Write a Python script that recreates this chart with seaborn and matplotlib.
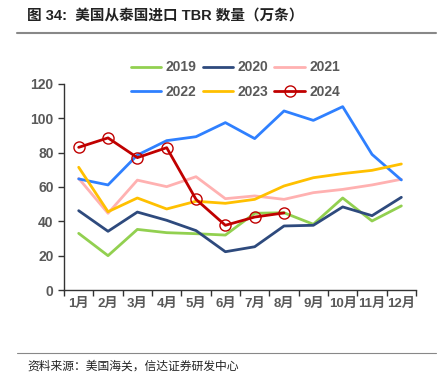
import numpy as np
import pandas as pd
import matplotlib
matplotlib.use("Agg")
import matplotlib.pyplot as plt
import seaborn as sns

# ---------- data (万条) ----------
months = ["1月", "2月", "3月", "4月", "5月", "6月", "7月", "8月", "9月", "10月", "11月", "12月"]
y2019 = [33.0, 20.0, 35.3, 33.4, 32.8, 32.0, 44.7, 45.0, 38.3, 53.6, 40.2, 49.0]
y2020 = [46.2, 34.2, 45.4, 40.6, 34.6, 22.3, 25.2, 37.3, 37.7, 48.4, 43.3, 54.0]
y2021 = [65.0, 44.7, 64.0, 60.2, 66.0, 53.2, 54.8, 52.8, 56.7, 58.6, 61.2, 64.5]
y2022 = [64.7, 61.2, 78.6, 87.0, 89.3, 97.5, 88.2, 104.3, 98.8, 106.8, 79.0, 64.1]
y2023 = [71.5, 45.6, 53.6, 47.2, 51.7, 50.5, 52.8, 60.6, 65.4, 67.8, 69.7, 73.4]
y2024 = [83.1, 88.6, 77.1, 82.9, 52.8, 37.7, 42.5, 44.9]

series = {"2019": y2019, "2020": y2020, "2021": y2021,
          "2022": y2022, "2023": y2023, "2024": y2024}
colors = {"2019": "#92D050", "2020": "#2E4A7D", "2021": "#FFB1B1",
          "2022": "#2F80FF", "2023": "#FFC000", "2024": "#C00000"}

rows = []
for yr, vals in series.items():
    for i, v in enumerate(vals):
        rows.append({"month": i, "year": yr, "value": v})
df = pd.DataFrame(rows)

sns.set_theme(style="white")
plt.rcParams["font.family"] = ["Liberation Sans", "Noto Sans CJK SC", "DejaVu Sans"]

fig = plt.figure(figsize=(4.4, 3.79), dpi=100)
ax = fig.add_axes([0.1455, 0.2348, 0.80, 0.5436])

for yr in series:
    sub = df[df["year"] == yr]
    if yr == "2024":
        sns.lineplot(data=sub, x="month", y="value", ax=ax, color=colors[yr], lw=2.0,
                     marker="o", markersize=8, markerfacecolor="none",
                     markeredgecolor=colors[yr], markeredgewidth=1.0, label=yr)
    else:
        sns.lineplot(data=sub, x="month", y="value", ax=ax, color=colors[yr], lw=2.0, label=yr)

gray = "#595959"
ax.set_xlim(-0.5, 11.5)
ax.set_ylim(0, 120)
ax.set_yticks(range(0, 121, 20))
ax.set_xticks(range(12))
ax.set_xticklabels(months)
ax.set_xticks(np.arange(-0.5, 12, 1), minor=True)
ax.tick_params(axis="x", which="major", length=0, pad=6, labelsize=9.5, labelcolor=gray)
ax.tick_params(axis="x", which="minor", length=4, width=1, color="#333333", direction="out",
               bottom=True)
ax.tick_params(axis="y", length=4, width=1, color="#333333", direction="out",
               labelsize=10, labelcolor=gray, left=True)
for lab in ax.get_xticklabels() + ax.get_yticklabels():
    lab.set_fontweight("bold")
ax.set_xlabel("")
ax.set_ylabel("")
for s in ["top", "right"]:
    ax.spines[s].set_visible(False)
for s in ["left", "bottom"]:
    ax.spines[s].set_color("#333333")
    ax.spines[s].set_linewidth(1.0)

# legend: reorder so 3 columns read row by row
handles, labels = ax.get_legend_handles_labels()
order = [0, 3, 1, 4, 2, 5]
leg = ax.legend([handles[i] for i in order], [labels[i] for i in order],
                loc="center", bbox_to_anchor=(0.535, 0.79), bbox_transform=fig.transFigure,
                ncol=3, frameon=False, fontsize=10, handlelength=2.2, columnspacing=0.45,
                handletextpad=0.3, labelspacing=0.75)
for t in leg.get_texts():
    t.set_color(gray)
    t.set_fontweight("bold")

# title, rules, source
fig.text(0.062, 0.958, "图 34:  美国从泰国进口 TBR 数量（万条）", fontsize=10.5,
         fontweight="bold", color="#222222", va="center", ha="left")
fig.add_artist(plt.Line2D([0.039, 0.99], [0.913, 0.913], color="#888888", lw=1.5))
fig.add_artist(plt.Line2D([0.039, 0.99], [0.068, 0.068], color="#888888", lw=0.8))
fig.text(0.062, 0.032, "资料来源：美国海关，信达证券研发中心", fontsize=8.5,
         style="italic", color="#222222", va="center", ha="left")

fig.savefig("out.png", dpi=100)
